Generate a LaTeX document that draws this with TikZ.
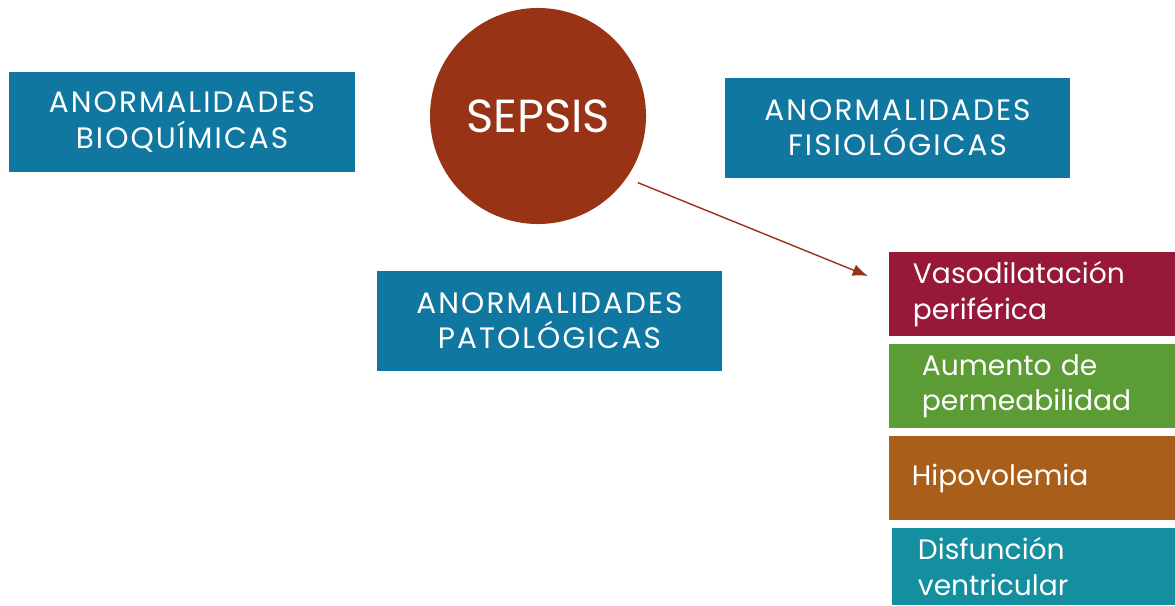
\documentclass[tikz,border=0pt]{standalone}
\usepackage{fontspec}
\setmainfont{Poppins}
\newfontfamily\capsfont[LetterSpace=7]{Poppins}
\usepackage{tikz}
\usetikzlibrary{shapes,arrows.meta,positioning,calc}
\definecolor{boxblue}{HTML}{0F77A0}
\definecolor{sepsisred}{HTML}{993315}
\definecolor{vasored}{HTML}{971839}
\definecolor{permgreen}{HTML}{5C9C35}
\definecolor{hipobrown}{HTML}{A95E1A}
\definecolor{disfteal}{HTML}{138FA0}
\tikzset{
    anormbox/.style={rectangle, fill=boxblue, text=white, align=center, minimum width=8.65cm, minimum height=2.5cm, font=\capsfont\fontsize{21}{25}\selectfont, inner sep=0pt},
    effectbox/.style={rectangle, text=white, align=left, minimum height=2.1cm, inner ysep=0pt, font=\fontsize{20}{25}\selectfont},
    center/.style={circle, fill=sepsisred, text=white, minimum size=5.4cm, font=\fontsize{33}{40}\selectfont, inner sep=0pt},
    link/.style={draw, -{Latex[length=0.38cm, width=0.3cm]}, sepsisred, line width=1pt}
}
\begin{document}
\begin{tikzpicture}[x=0.025cm, y=-0.025cm]
    \useasboundingbox (0,0) rectangle (1175,605);

    \node [center] (sepsis) at (538,116) {SEPSIS};
    \node [anormbox] (bioq) at (182,122) {ANORMALIDADES\\BIOQUÍMICAS};
    \node [anormbox, minimum width=8.625cm] (fisio) at (897.5,128) {ANORMALIDADES\\FISIOLÓGICAS};
    \node [anormbox, minimum width=8.625cm] (pato) at (549.5,321) {ANORMALIDADES\\PATOLÓGICAS};

    \node [effectbox, fill=vasored, inner xsep=0.6cm, text width=5.95cm] (vaso) at (1032,294) {Vasodilatación\\periférica};
    \node [effectbox, fill=permgreen, inner xsep=0.825cm, text width=5.5cm] (perm) at (1032,386) {Aumento de\\permeabilidad};
    \node [effectbox, fill=hipobrown, inner xsep=0.575cm, text width=6cm] (hipo) at (1032,478) {Hipovolemia};
    \node [effectbox, fill=disfteal, minimum height=1.925cm, inner xsep=0.65cm, text width=5.775cm] (disf) at (1033.5,566.5) {Disfunción\\ventricular};

    \path [link, shorten <=0.3cm] (sepsis.-35) -- ([xshift=-0.52cm, yshift=0.45cm]vaso.west);
\end{tikzpicture}
\end{document}
